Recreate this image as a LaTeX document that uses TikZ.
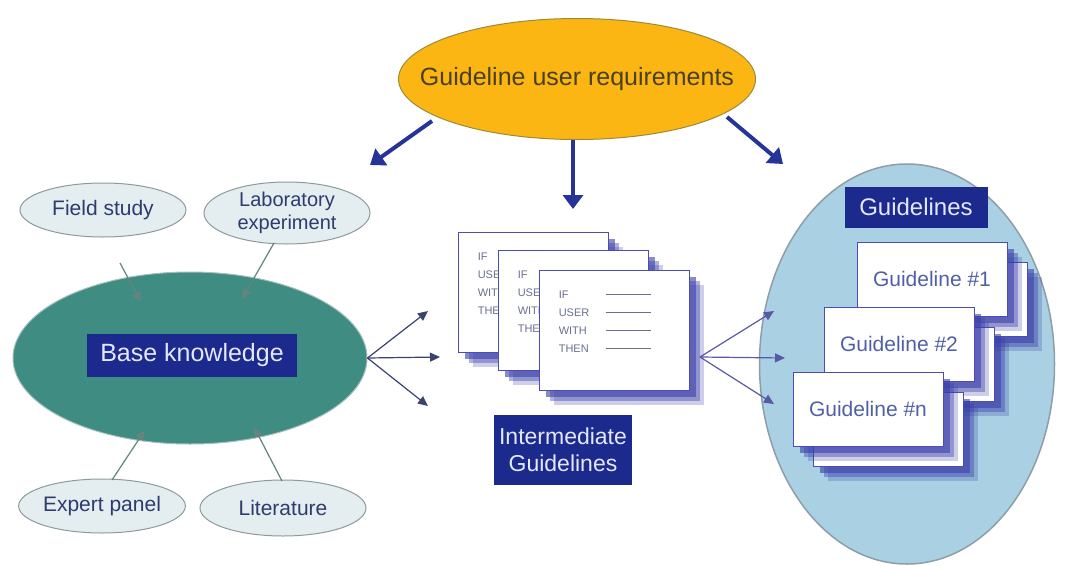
\documentclass[tikz,border=0pt]{standalone}
\usepackage{fontspec}
\setmainfont{Liberation Sans}
\usetikzlibrary{arrows.meta,shapes.geometric,shadows}
\definecolor{gurfill}{HTML}{FBB614}
\definecolor{gurdraw}{HTML}{9C8A3A}
\definecolor{gurtext}{HTML}{4A4020}
\definecolor{teal}{HTML}{3E8C82}
\definecolor{tealdraw}{HTML}{A8BEBA}
\definecolor{smallfill}{HTML}{E4EEF0}
\definecolor{smalldraw}{HTML}{8E9A9A}
\definecolor{smalltext}{HTML}{2E3B6E}
\definecolor{navy}{HTML}{1B2A8C}
\definecolor{navytext}{HTML}{E4E8FF}
\definecolor{rightfill}{HTML}{A9D1E3}
\definecolor{rightdraw}{HTML}{8E9EA8}
\definecolor{thickarrow}{HTML}{26349A}
\definecolor{thinarrow}{HTML}{3A4270}
\definecolor{cardtext}{HTML}{5060A8}
\definecolor{shadowblue}{HTML}{3A3FA8}
\definecolor{paperline}{HTML}{6A7090}
\tikzset{
  fs/.style={font=\fontsize{#1}{#1}\selectfont},
  smallell/.style={ellipse, draw=smalldraw, line width=1pt, fill=smallfill, text=smalltext, inner sep=0pt, align=center},
  navybox/.style={rectangle, fill=navy, text=navytext, inner sep=0pt, align=center},
  card/.style={rectangle, draw=gray!60!blue, line width=0.8pt, fill=white, inner sep=0pt,
    drop shadow={shadow xshift=15pt, shadow yshift=-15pt, fill=shadowblue, opacity=0.25},
    drop shadow={shadow xshift=11pt, shadow yshift=-11pt, fill=shadowblue, opacity=0.4},
    drop shadow={shadow xshift=7pt, shadow yshift=-7pt, fill=shadowblue, opacity=0.6}},
  paper/.style={card, minimum width=150pt, minimum height=120pt},
  gcard/.style={card, minimum width=150pt, minimum height=74pt, text=cardtext, fs=21},
  thick arrow/.style={draw=thickarrow, line width=4pt, -{Triangle[length=14pt,width=20pt]}},
  thin arrow/.style={draw=thinarrow, line width=1.2pt, -{Triangle[length=10pt,width=9pt]}},
  ptext/.style={anchor=west, text=paperline, fs=11, inner sep=0pt},
}
\newcommand{\paperrows}[1]{%
  \node[ptext] (#1r1) at ([xshift=20pt,yshift=-25pt]#1.north west) {IF};
  \node[ptext] (#1r2) at ([xshift=20pt,yshift=-43pt]#1.north west) {USER};
  \node[ptext] (#1r3) at ([xshift=20pt,yshift=-61pt]#1.north west) {WITH};
  \node[ptext] (#1r4) at ([xshift=20pt,yshift=-79pt]#1.north west) {THEN};
  \foreach \k in {25,43,61,79}{
    \draw[paperline, line width=0.8pt] ([xshift=67pt,yshift=-\k pt]#1.north west) -- ([xshift=112pt,yshift=-\k pt]#1.north west);
  }%
}
\begin{document}
\begin{tikzpicture}[x=1pt,y=-1pt]
\useasboundingbox (0,0) rectangle (1068,565);
\fill[white] (0,0) rectangle (1068,565);

% top ellipse
\node[ellipse, draw=gurdraw, line width=1pt, fill=gurfill, minimum width=357pt, minimum height=121pt, inner sep=0pt] (gur) at (577,79) {};
\node[text=gurtext, fs=25, inner sep=0pt] (gurl) at (gur.center) {Guideline user requirements};
\coordinate (tl) at (370,165);
\coordinate (tc) at (573,209);
\coordinate (tr) at (783,164);
\draw[thick arrow] (432,121) -- (tl);
\draw[thick arrow] (gur.south -| tc) -- (tc);
\draw[thick arrow] (727,117) -- (tr);

% base knowledge
\node[ellipse, draw=tealdraw, line width=1pt, fill=teal, minimum width=354pt, minimum height=172pt, inner sep=0pt] (bk) at (190,358) {};
\node[navybox, minimum width=210pt, minimum height=43pt, fs=25] (bkl) at (192,355) {Base knowledge};

\node[smallell, minimum width=166pt, minimum height=54pt, fs=21] (fs) at (103,210) {Field study};
\node[smallell, minimum width=166pt, minimum height=62pt, fs=20] (le) at (287,213) {Laboratory\\[3pt]experiment};
\node[smallell, minimum width=160pt, minimum height=54pt, fs=21] (ep) at (102,506) {Expert panel};
\node[smallell, minimum width=166pt, minimum height=56pt, fs=21] (lit) at (283,508) {Literature};

\coordinate (fsend) at (141,302);
\coordinate (leend) at (242,299);
\coordinate (epend) at (145,430);
\coordinate (litend) at (254,427);
\draw[thin arrow, draw=gray!60!teal] (120,263) -- (fsend);
\draw[thin arrow, draw=gray!60!teal] (274,243) -- (leend);
\draw[thin arrow, draw=gray!60!teal] (112,480) -- (epend);
\draw[thin arrow, draw=gray!60!teal] (282,481) -- (litend);

% intermediate papers
\node[paper] (p1) at (533,292) {};
\paperrows{p1}
\node[paper] (p2) at (573,310) {};
\paperrows{p2}
\node[paper] (p3) at (614,330) {};
\paperrows{p3}

\coordinate (b1) at (428,311);
\coordinate (b2) at (440,357);
\coordinate (b3) at (428,406);
\draw[thin arrow] (bk.east) -- (b1);
\draw[thin arrow] (bk.east) -- (b2);
\draw[thin arrow] (bk.east) -- (b3);

\node[navybox, minimum width=138pt, minimum height=70pt, fs=23] (ig) at (563,450) {Intermediate\\[4pt]Guidelines};

% right ellipse
\node[ellipse, draw=rightdraw, line width=1.5pt, fill=rightfill, minimum width=295pt, minimum height=400pt, inner sep=0pt] (gl) at (907,364) {};

\coordinate (src) at (700,357);
\coordinate (g1) at (774,311);
\coordinate (g2) at (785,358);
\coordinate (g3) at (774,404);
\draw[thin arrow, draw=gray!70!blue] (src) -- (g1);
\draw[thin arrow, draw=gray!70!blue] (src) -- (g2);
\draw[thin arrow, draw=gray!70!blue] (src) -- (g3);

\node[navybox, minimum width=143pt, minimum height=41pt, fs=24] (glb) at (916,207) {Guidelines};

\node[gcard] (c1b) at (952,299) {};
\node[gcard] (c1) at (932,279) {Guideline \#1};
\node[gcard] (c2b) at (919,364) {};
\node[gcard] (c2) at (899,344) {Guideline \#2};
\node[gcard] (cnb) at (888,429) {};
\node[gcard] (cn) at (868,409) {Guideline \#n};
\end{tikzpicture}
\end{document}
